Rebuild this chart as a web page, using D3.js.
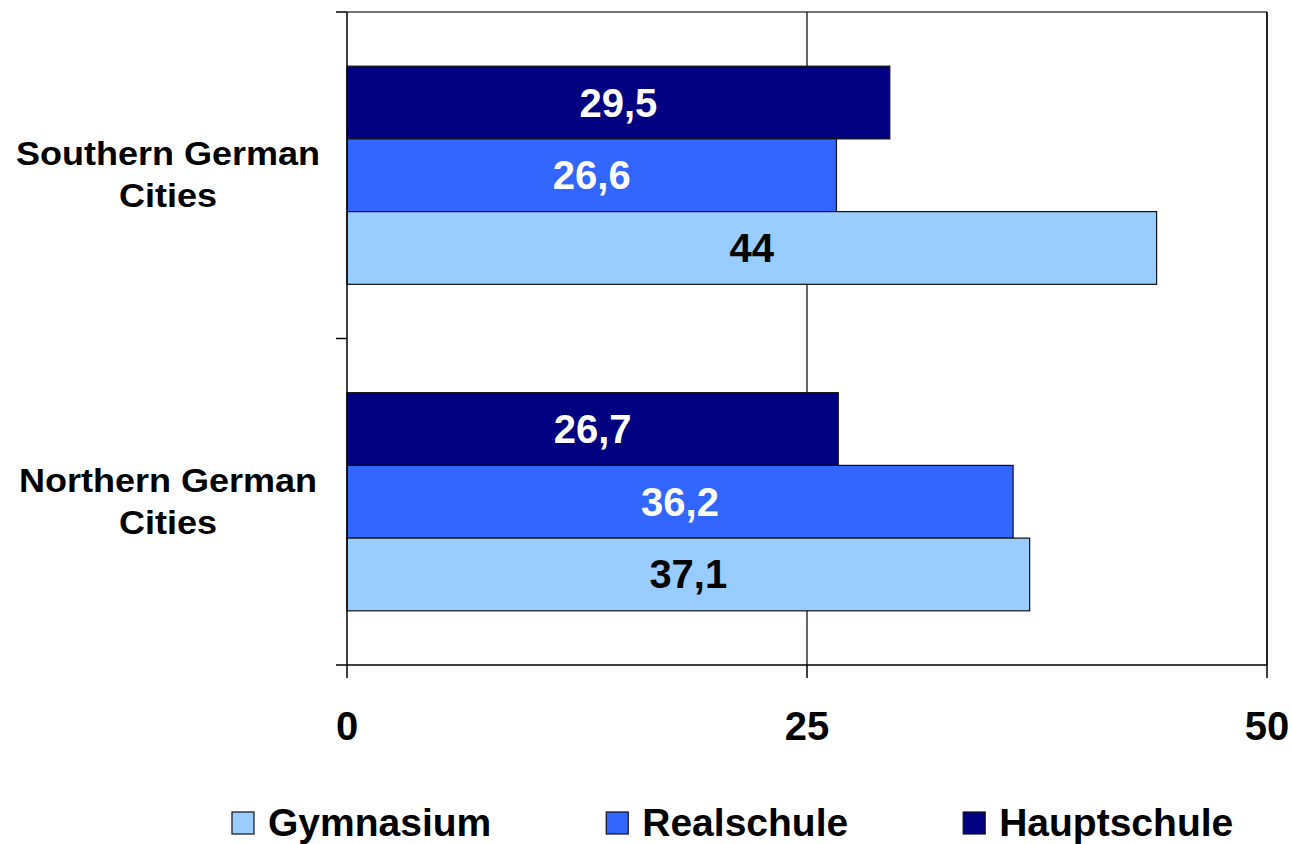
<!DOCTYPE html>
<html>
<head>
<meta charset="utf-8">
<script src="https://cdn.jsdelivr.net/npm/d3@7.9.0/dist/d3.min.js"></script>
<style>
  body { margin: 0; background: #fff; }
  svg text { font-family: Arial, "Liberation Sans", sans-serif; font-weight: bold; }
</style>
</head>
<body>
<svg id="chart" width="1292" height="844"></svg>
<script>
const categories = ["Southern German Cities", "Northern German Cities"];
const categoryLines = [["Southern German", "Cities"], ["Northern German", "Cities"]];
const series = ["Hauptschule", "Realschule", "Gymnasium"]; // top to bottom in each group
const legendOrder = ["Gymnasium", "Realschule", "Hauptschule"];
const hauptschule = [29.5, 26.7];
const realschule = [26.6, 36.2];
const gymnasium = [44, 37.1];
const xTicks = [0, 25, 50];

const colors = { Gymnasium: "#99ccff", Realschule: "#3366ff", Hauptschule: "#000080" };
const labelColors = { Gymnasium: "#000", Realschule: "#fff", Hauptschule: "#fff" };
const values = { Hauptschule: hauptschule, Realschule: realschule, Gymnasium: gymnasium };

const svg = d3.select("#chart");
const plotL = 347, plotR = 1267, plotT = 12, plotB = 665;

const x = d3.scaleLinear().domain([0, 50]).range([plotL, plotR]);
const y = d3.scaleBand().domain(categories).range([plotT, plotB]).padding(0);
const ySub = d3.scaleBand().domain(series).range([0, y.bandwidth()])
  .paddingInner(0).paddingOuter(0.745);

// frame and gridline
svg.append("line").attr("x1", plotL).attr("x2", plotR).attr("y1", plotT).attr("y2", plotT)
  .attr("stroke", "#444").attr("stroke-width", 1.5);
svg.append("line").attr("x1", plotR).attr("x2", plotR).attr("y1", plotT).attr("y2", plotB)
  .attr("stroke", "#222").attr("stroke-width", 2);
svg.append("line").attr("x1", x(25)).attr("x2", x(25)).attr("y1", plotT).attr("y2", plotB)
  .attr("stroke", "#000").attr("stroke-width", 1.2);

// bars
categories.forEach((cat, ci) => {
  series.forEach((s) => {
    const v = values[s][ci];
    const y0 = y(cat) + ySub(s);
    svg.append("rect")
      .attr("x", x(0)).attr("y", y0)
      .attr("width", x(v) - x(0)).attr("height", ySub.bandwidth())
      .attr("fill", colors[s]).attr("stroke", "#111").attr("stroke-width", 1.2);
    svg.append("text")
      .attr("x", (x(0) + x(v)) / 2).attr("y", y0 + ySub.bandwidth() / 2 + 14)
      .attr("text-anchor", "middle").attr("font-size", 40)
      .attr("fill", labelColors[s])
      .text(String(v).replace(".", ","));
  });
});

// y axis
const yTickPos = [plotT, y(categories[1]), plotB];
svg.append("line").attr("x1", plotL).attr("x2", plotL).attr("y1", plotT).attr("y2", plotB)
  .attr("stroke", "#000").attr("stroke-width", 1.5);
yTickPos.forEach((p) => {
  svg.append("line").attr("x1", plotL - 11).attr("x2", plotL).attr("y1", p).attr("y2", p)
    .attr("stroke", "#000").attr("stroke-width", 1.5);
});
categories.forEach((cat, ci) => {
  const cy = y(cat) + y.bandwidth() / 2;
  categoryLines[ci].forEach((line, li) => {
    svg.append("text")
      .attr("transform", `translate(168,${cy - 10 + li * 42}) scale(1.06,1)`)
      .attr("text-anchor", "middle").attr("font-size", 34).attr("fill", "#000")
      .text(line);
  });
});

// x axis
svg.append("line").attr("x1", plotL).attr("x2", plotR).attr("y1", plotB).attr("y2", plotB)
  .attr("stroke", "#000").attr("stroke-width", 1.5);
xTicks.forEach((t) => {
  svg.append("line").attr("x1", x(t)).attr("x2", x(t)).attr("y1", plotB).attr("y2", plotB + 13)
    .attr("stroke", "#000").attr("stroke-width", 1.5);
  svg.append("text").attr("x", x(t)).attr("y", 740)
    .attr("text-anchor", "middle").attr("font-size", 40).attr("fill", "#000")
    .text(t);
});

// legend
let lx = 232;
legendOrder.forEach((s) => {
  const g = svg.append("g").attr("transform", `translate(${lx},0)`);
  g.append("rect").attr("x", 0).attr("y", 812).attr("width", 22).attr("height", 22)
    .attr("fill", colors[s]).attr("stroke", "#111").attr("stroke-width", 1.2);
  const t = g.append("text").attr("x", 36).attr("y", 836)
    .attr("font-size", 39).attr("fill", "#000").text(s);
  lx += 36 + t.node().getComputedTextLength() + 115;
});
</script>
</body>
</html>
